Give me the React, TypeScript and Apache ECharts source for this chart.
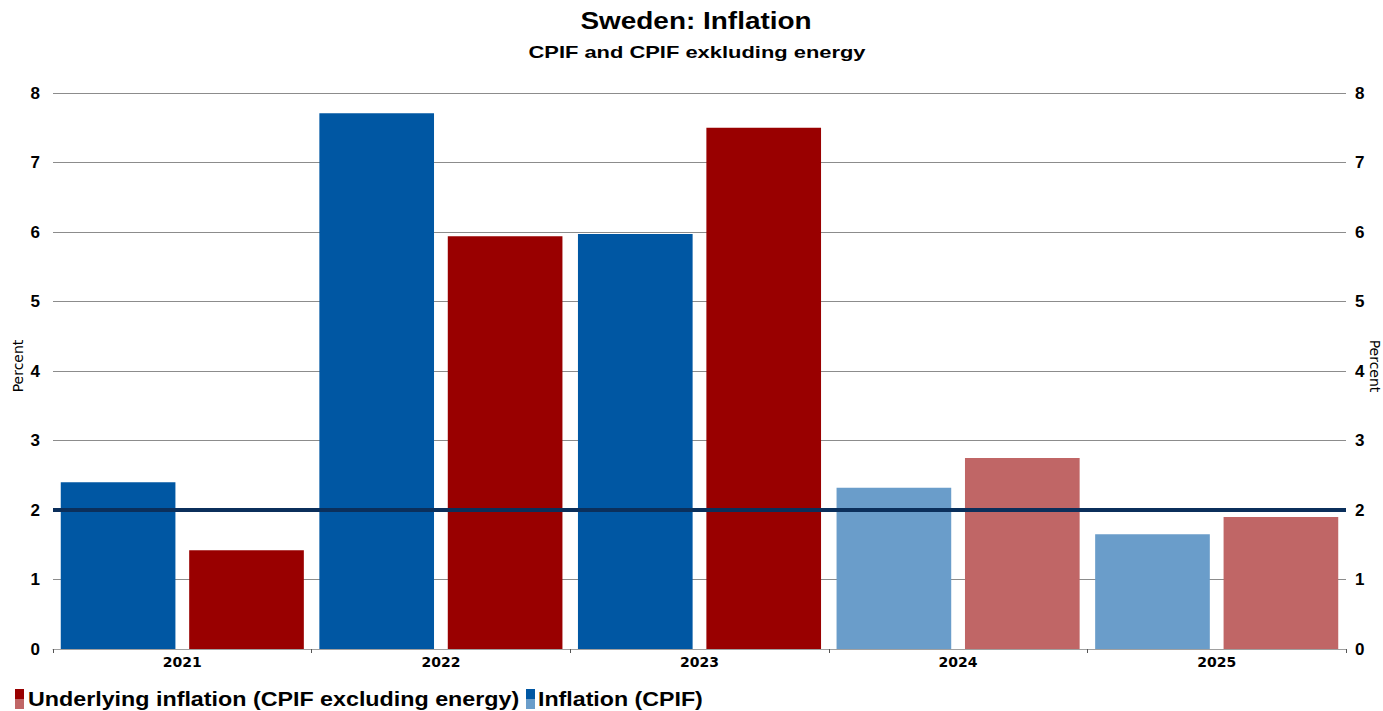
import React, { useEffect, useRef } from "react";
import * as echarts from "echarts";

const categories = ["2021", "2022", "2023", "2024", "2025"];
const cpif = [2.4, 7.71, 5.97, 2.32, 1.65];
const cpifExEnergy = [1.42, 5.94, 7.5, 2.75, 1.9];
const forecast = [false, false, false, true, true];
const targetLevel = 2;
const yTicks = [0, 1, 2, 3, 4, 5, 6, 7, 8];
const titleText = "Sweden: Inflation";
const subtitleText = "CPIF and CPIF exkluding energy";
const axisName = "Percent";
const legendUnderlying = "Underlying inflation (CPIF excluding energy)";
const legendCpif = "Inflation (CPIF)";

const BLUE = "#0057A3";
const BLUE_L = "#6A9DCA";
const RED = "#990000";
const RED_L = "#C06666";
const FONT = "Liberation Sans, Arial, sans-serif";
const WIDE = "DejaVu Sans, sans-serif";

export default function App() {
  const ref = useRef<HTMLDivElement>(null);
  useEffect(() => {
    if (!ref.current) return;
    const chart = echarts.init(ref.current, null, { renderer: "svg" });
    const yAxisBase = (pos: "left" | "right") => ({
      type: "value",
      position: pos,
      min: 0,
      max: yTicks[yTicks.length - 1],
      interval: 1,
      axisLine: { show: false },
      axisTick: { show: false },
      axisLabel: {
        fontFamily: FONT,
        fontSize: 17,
        fontWeight: "bold",
        color: "#000",
        margin: pos === "left" ? 13 : 9,
      },
      splitLine: { show: pos === "left", lineStyle: { color: "#8c8c8c", width: 1 } },
    });
    const txt = (text: string, x: number, y: number, size: number, sx: number, align: string) => ({
      type: "text",
      x,
      y,
      scaleX: sx,
      style: {
        text,
        fontFamily: FONT,
        fontSize: size,
        fontWeight: "bold",
        fill: "#000",
        textAlign: align,
        textVerticalAlign: "middle",
      },
    });
    const rotName = (x: number, rot: number) => ({
      type: "text",
      x,
      y: 366,
      rotation: rot,
      style: {
        text: axisName,
        fontFamily: WIDE,
        fontSize: 14,
        fill: "#000",
        textAlign: "center",
        textVerticalAlign: "middle",
      },
    });
    chart.setOption({
      animation: false,
      backgroundColor: "#fff",
      grid: { left: 53, right: 37, top: 93, bottom: 62, containLabel: false, outerBoundsMode: "none" },
      xAxis: {
        type: "category",
        data: categories,
        axisLine: { lineStyle: { color: "#a0a0a0", width: 1 } },
        axisTick: { show: true, alignWithLabel: false, length: 4, lineStyle: { color: "#555" } },
        axisLabel: { fontFamily: WIDE, fontSize: 14, fontWeight: "bold", color: "#000", margin: 6 },
      },
      yAxis: [yAxisBase("left"), yAxisBase("right")],
      series: [
        {
          name: legendCpif,
          type: "bar",
          barGap: "12%",
          barCategoryGap: "6%",
          data: cpif.map((v, i) => ({ value: v, itemStyle: { color: forecast[i] ? BLUE_L : BLUE } })),
          markLine: {
            symbol: "none",
            silent: true,
            label: { show: false },
            lineStyle: { color: "#0B2F5B", width: 4, type: "solid" },
            data: [{ yAxis: targetLevel }],
          },
          z: 2,
        },
        {
          name: legendUnderlying,
          type: "bar",
          barGap: "12%",
          barCategoryGap: "6%",
          data: cpifExEnergy.map((v, i) => ({ value: v, itemStyle: { color: forecast[i] ? RED_L : RED } })),
          z: 2,
        },
      ],
      graphic: [
        txt(titleText, 696, 21, 23, 1.215, "center"),
        txt(subtitleText, 697, 53, 16, 1.37, "center"),
        rotName(18, Math.PI / 2),
        rotName(1375, -Math.PI / 2),
        { type: "rect", x: 15, y: 689, shape: { width: 9, height: 10 }, style: { fill: RED } },
        { type: "rect", x: 15, y: 699, shape: { width: 9, height: 10 }, style: { fill: RED_L } },
        txt(legendUnderlying, 28, 699, 20, 1.164, "left"),
        { type: "rect", x: 526, y: 689, shape: { width: 9, height: 10 }, style: { fill: BLUE } },
        { type: "rect", x: 526, y: 699, shape: { width: 9, height: 10 }, style: { fill: BLUE_L } },
        txt(legendCpif, 538, 699, 20, 1.16, "left"),
      ],
    });
    return () => chart.dispose();
  }, []);
  return <div ref={ref} style={{ width: 1383, height: 711, position: "absolute", left: 0, top: 0 }} />;
}
